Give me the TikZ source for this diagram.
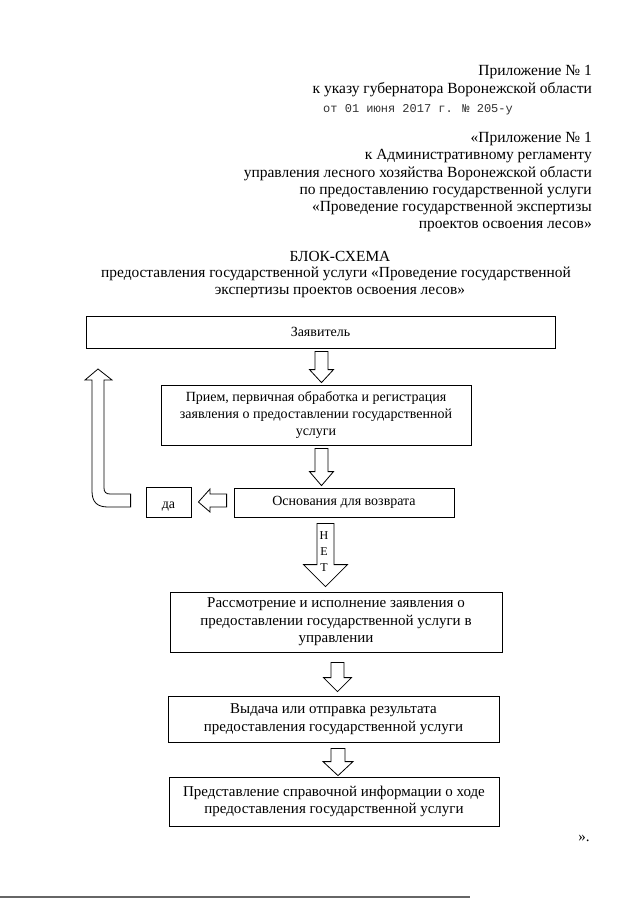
\documentclass[tikz,border=0pt]{standalone}
\usepackage{fontspec}
\setmainfont{Liberation Serif}
\newfontfamily\monof{Liberation Mono}
\usetikzlibrary{calc}
\newcommand{\dnarr}[8]{% x, from, gap top, to, gap bottom, shaft half, head half, head length
  \draw[barrow] let \p1=(#2), \p2=(#4) in
    ({#1pt-#6pt},{\y1-#3pt}) -- ({#1pt+#6pt},{\y1-#3pt})
    -- ({#1pt+#6pt},{\y2+#5pt+#8pt}) -- ({#1pt+#7pt},{\y2+#5pt+#8pt})
    -- ({#1pt},{\y2+#5pt}) -- ({#1pt-#7pt},{\y2+#5pt+#8pt})
    -- ({#1pt-#6pt},{\y2+#5pt+#8pt}) -- cycle;}
\begin{document}
\begin{tikzpicture}[x=1pt,y=-1pt,
  hdr/.style={anchor=base east, inner sep=0pt, font=\fontsize{15.5}{18}\selectfont},
  ttl/.style={anchor=base, inner sep=0pt, font=\fontsize{15.4}{18}\selectfont},
  box/.style={draw, line width=0.8pt, inner sep=0pt, align=center},
  sbox/.style={box, font=\fontsize{14}{17}\selectfont},
  lbox/.style={box, font=\fontsize{15}{17.5}\selectfont},
  onebox/.style={draw, line width=0.8pt, inner sep=0pt, font=\fontsize{14}{17}\selectfont},
  barrow/.style={draw, line width=0.8pt, fill=white, line join=miter}]
\useasboundingbox (0,0) rectangle (640,903);
\fill[white] (0,0) rectangle (640,903);

% header
\node[hdr] (h1) at (592,75) {Приложение № 1};
\node[hdr] (h2) at (592,93) {к указу губернатора Воронежской области};
\node[anchor=base west, inner sep=0pt, text=black!80, font=\monof\fontsize{12}{14}\selectfont] (h3) at (323,112) {от 01 июня 2017 г. № 205-у};
\node[hdr] (h4) at (592,142) {«Приложение № 1};
\node[hdr] (h5) at (592,159) {к Административному регламенту};
\node[hdr] (h6) at (592,177) {управления лесного хозяйства Воронежской области};
\node[hdr] (h7) at (592,194) {по предоставлению государственной услуги};
\node[hdr] (h8) at (592,211) {«Проведение государственной экспертизы};
\node[hdr] (h9) at (592,228) {проектов освоения лесов»};
\node[ttl] (t1) at (340,261) {БЛОК-СХЕМА};
\node[ttl] (t2) at (336,277) {предоставления государственной услуги «Проведение государственной};
\node[ttl] (t3) at (340,294) {экспертизы проектов освоения лесов»};

% boxes
\node[onebox, minimum width=469pt, minimum height=32pt] (z) at (320.5,332) {Заявитель};
\node[sbox, minimum width=310pt, minimum height=60pt] (p) at (316,415)
  {Прием, первичная обработка и регистрация\\заявления о предоставлении государственной\\услуги};
\node[onebox, minimum width=220pt, minimum height=29pt] (o) at (344,502.5) {Основания для возврата};
\node[onebox, minimum width=45pt, minimum height=30pt, text height=7pt, text depth=0pt] (da) at (168.5,502) {\raisebox{-2.5pt}{да}};
\node[lbox, minimum width=332pt, minimum height=60pt] (r) at (336,622)
  {Рассмотрение и исполнение заявления о\\предоставлении государственной услуги в\\управлении};
\node[lbox, minimum width=331pt, minimum height=46pt] (v) at (333.5,719)
  {Выдача или отправка результата\\предоставления государственной услуги};
\node[lbox, minimum width=330pt, minimum height=49pt] (pr) at (334,801.5)
  {Представление справочной информации о ходе\\предоставления государственной услуги};

% block arrows
\dnarr{321.5}{z.south}{3}{p.north}{2}{6.5}{12}{13}
\dnarr{321.5}{p.south}{3}{o.north}{2}{6.5}{12}{14}
\dnarr{325.5}{o.south}{6}{r.north}{5}{8.5}{22}{22}
\dnarr{337.5}{r.south}{10}{v.north}{4}{6.5}{14}{14}
\dnarr{338}{v.south}{6}{pr.north}{1}{7}{15}{14}
\node[inner sep=0pt, align=center, font=\fontsize{12}{16}\selectfont] (net) at (324,552) {Н\\Е\\Т};

% left arrow: Основания -> да
\draw[barrow] ($(o.west)+(-7,-8.5)$) -- (210,494) -- (210,489) -- ($(da.east)+(7,0)$)
  -- (210,512) -- (210,507) -- ($(o.west)+(-7,4.5)$) -- cycle;

% bent return arrow
\coordinate (ret) at (98,369);
\draw[barrow] ($(da.west)+(-15,-8)$) -- (110,494) .. controls (106,494) and (104,492) .. (104,488)
  -- (104,380) -- (112,380) -- (ret) -- (85,380) -- (92,380) -- (92,491)
  .. controls (92,502) and (97,507) .. (108,507) -- ($(da.west)+(-15,5)$) -- cycle;

% closing mark
\node[inner sep=0pt, font=\fontsize{15}{18}\selectfont] (end) at (584,838) {».};

% scan edge line
\draw[black!60, line width=1.2pt] (0,897) -- (470,897);
\end{tikzpicture}
\end{document}
